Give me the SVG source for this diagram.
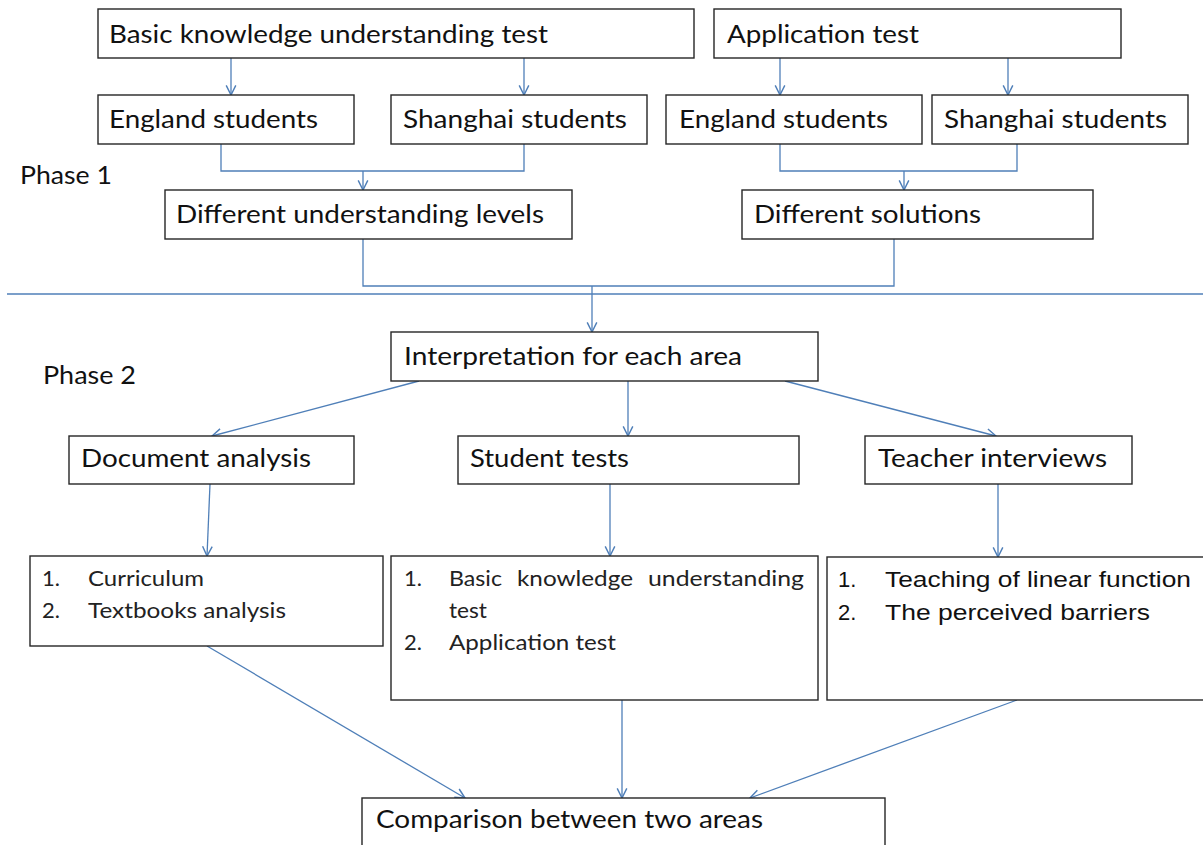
<svg xmlns="http://www.w3.org/2000/svg" width="1203" height="845" viewBox="0 0 1203 845">
<style>
.box{fill:#fff;stroke:#262626;stroke-width:1.4}
.t{font-family:Lato,"Liberation Sans",sans-serif;font-size:25px;fill:#111}
.l{font-family:Lato,"Liberation Sans",sans-serif;font-size:22px;fill:#222}
.a{font-family:"Liberation Sans",Arial,sans-serif;font-size:22px;fill:#111}
.c{fill:none;stroke:#4f7fb8;stroke-width:1.3}
</style>
<defs>
<marker id="arr" viewBox="0 0 10 10" markerWidth="12" markerHeight="12" refX="9" refY="5" orient="auto" markerUnits="userSpaceOnUse">
<path d="M1,1 L9,5 L1,9" fill="none" stroke="#4f7fb8" stroke-width="1.2"/>
</marker>
</defs>
<rect width="1203" height="845" fill="#fff"/>

<g id="connectors">
<line class="c" x1="7" y1="294" x2="1203" y2="294"/>
<line class="c" x1="231" y1="58" x2="231" y2="95" marker-end="url(#arr)"/>
<line class="c" x1="524" y1="58" x2="524" y2="95" marker-end="url(#arr)"/>
<line class="c" x1="780" y1="58" x2="780" y2="95" marker-end="url(#arr)"/>
<line class="c" x1="1008" y1="58" x2="1008" y2="95" marker-end="url(#arr)"/>
<polyline class="c" points="221,144 221,171 524,171 524,144"/>
<line class="c" x1="363" y1="171" x2="363" y2="190" marker-end="url(#arr)"/>
<polyline class="c" points="780,144 780,171 1017,171 1017,144"/>
<line class="c" x1="904" y1="171" x2="904" y2="190" marker-end="url(#arr)"/>
<polyline class="c" points="363,239 363,286 894,286 894,239"/>
<line class="c" x1="592" y1="286" x2="592" y2="332" marker-end="url(#arr)"/>
<line class="c" x1="419" y1="381" x2="212" y2="436" marker-end="url(#arr)"/>
<line class="c" x1="628" y1="381" x2="628" y2="436" marker-end="url(#arr)"/>
<line class="c" x1="785" y1="381" x2="996" y2="436" marker-end="url(#arr)"/>
<line class="c" x1="210" y1="484" x2="207" y2="556" marker-end="url(#arr)"/>
<line class="c" x1="610" y1="484" x2="610" y2="556" marker-end="url(#arr)"/>
<line class="c" x1="998" y1="484" x2="998" y2="557" marker-end="url(#arr)"/>
<line class="c" x1="207" y1="646" x2="465" y2="798" marker-end="url(#arr)"/>
<line class="c" x1="622" y1="700" x2="622" y2="798" marker-end="url(#arr)"/>
<line class="c" x1="1017" y1="700" x2="750" y2="798" marker-end="url(#arr)"/>
</g>

<g id="phase1-label"><text class="t" x="20" y="184" textLength="92" lengthAdjust="spacingAndGlyphs">Phase 1</text></g>
<g id="phase2-label"><text class="t" x="43" y="384" textLength="93" lengthAdjust="spacingAndGlyphs">Phase 2</text></g>

<g id="basic-test">
<rect class="box" x="98" y="9" width="596" height="49"/>
<text class="t" x="109" y="43" textLength="439" lengthAdjust="spacingAndGlyphs">Basic knowledge understanding test</text>
</g>
<g id="application-test">
<rect class="box" x="714" y="9" width="407" height="49"/>
<text class="t" x="727" y="43" textLength="192" lengthAdjust="spacingAndGlyphs">Application test</text>
</g>
<g id="england-1">
<rect class="box" x="98" y="95" width="256" height="49"/>
<text class="t" x="109" y="128" textLength="209" lengthAdjust="spacingAndGlyphs">England students</text>
</g>
<g id="shanghai-1">
<rect class="box" x="391" y="95" width="256" height="49"/>
<text class="t" x="403" y="128" textLength="224" lengthAdjust="spacingAndGlyphs">Shanghai students</text>
</g>
<g id="england-2">
<rect class="box" x="666" y="95" width="256" height="49"/>
<text class="t" x="679" y="128" textLength="209" lengthAdjust="spacingAndGlyphs">England students</text>
</g>
<g id="shanghai-2">
<rect class="box" x="932" y="95" width="256" height="49"/>
<text class="t" x="944" y="128" textLength="223" lengthAdjust="spacingAndGlyphs">Shanghai students</text>
</g>
<g id="diff-levels">
<rect class="box" x="165" y="190" width="407" height="49"/>
<text class="t" x="176" y="223" textLength="368" lengthAdjust="spacingAndGlyphs">Different understanding levels</text>
</g>
<g id="diff-solutions">
<rect class="box" x="742" y="190" width="351" height="49"/>
<text class="t" x="754" y="223" textLength="227" lengthAdjust="spacingAndGlyphs">Different solutions</text>
</g>
<g id="interpretation">
<rect class="box" x="391" y="332" width="427" height="49"/>
<text class="t" x="404" y="365" textLength="338" lengthAdjust="spacingAndGlyphs">Interpretation for each area</text>
</g>
<g id="document-analysis">
<rect class="box" x="69" y="436" width="285" height="48"/>
<text class="t" x="81" y="467" textLength="230" lengthAdjust="spacingAndGlyphs">Document analysis</text>
</g>
<g id="student-tests">
<rect class="box" x="458" y="436" width="341" height="48"/>
<text class="t" x="470" y="467" textLength="159" lengthAdjust="spacingAndGlyphs">Student tests</text>
</g>
<g id="teacher-interviews">
<rect class="box" x="865" y="436" width="267" height="48"/>
<text class="t" x="878" y="467" textLength="229" lengthAdjust="spacingAndGlyphs">Teacher interviews</text>
</g>
<g id="document-list">
<rect class="box" x="30" y="556" width="353" height="90"/>
<text class="l" x="42" y="586">1.</text>
<text class="l" x="88" y="586" textLength="116" lengthAdjust="spacingAndGlyphs">Curriculum</text>
<text class="l" x="42" y="618">2.</text>
<text class="l" x="88" y="618" textLength="198" lengthAdjust="spacingAndGlyphs">Textbooks analysis</text>
</g>
<g id="student-list">
<rect class="box" x="391" y="556" width="427" height="144"/>
<text class="l" x="404" y="586">1.</text>
<text class="l" x="449" y="586" textLength="53" lengthAdjust="spacingAndGlyphs">Basic</text>
<text class="l" x="517" y="586" textLength="116" lengthAdjust="spacingAndGlyphs">knowledge</text>
<text class="l" x="648" y="586" textLength="156" lengthAdjust="spacingAndGlyphs">understanding</text>
<text class="l" x="449" y="618" textLength="38" lengthAdjust="spacingAndGlyphs">test</text>
<text class="l" x="404" y="650">2.</text>
<text class="l" x="449" y="650" textLength="167" lengthAdjust="spacingAndGlyphs">Application test</text>
</g>
<g id="teacher-list">
<rect class="box" x="827" y="557" width="380" height="143"/>
<text class="a" x="838" y="587">1.</text>
<text class="a" x="885" y="587" textLength="306" lengthAdjust="spacingAndGlyphs">Teaching of linear function</text>
<text class="a" x="838" y="620">2.</text>
<text class="a" x="885" y="620" textLength="265" lengthAdjust="spacingAndGlyphs">The perceived barriers</text>
</g>
<g id="comparison">
<rect class="box" x="362" y="798" width="523" height="60"/>
<text class="t" x="376" y="828" textLength="387" lengthAdjust="spacingAndGlyphs">Comparison between two areas</text>
</g>
</svg>
